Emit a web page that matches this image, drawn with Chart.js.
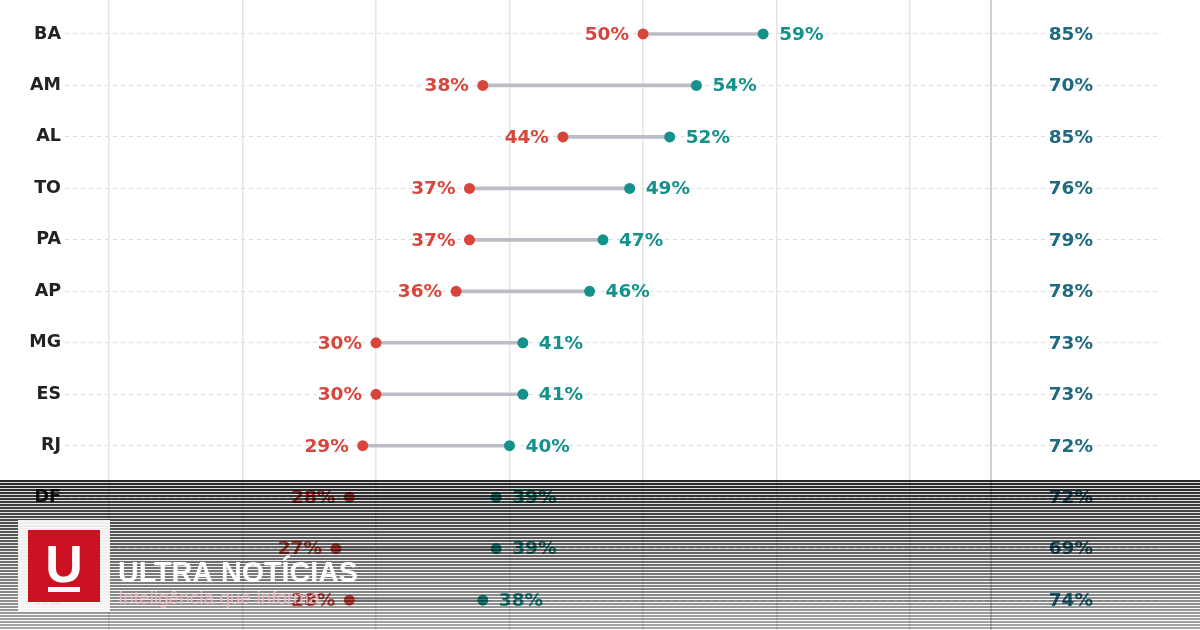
<!DOCTYPE html>
<html>
<head>
<meta charset="utf-8">
<script src="https://cdn.jsdelivr.net/npm/chart.js@4.4.1/dist/chart.umd.min.js"></script>
<style>
html,body{margin:0;padding:0;background:#fff;}
#wrap{width:1200px;height:630px;position:relative;}
</style>
</head>
<body>
<div id="wrap"><canvas id="chart"></canvas></div>
<script>
// state rows, top to bottom
const states = ['BA','AM','AL','TO','PA','AP','MG','ES','RJ','DF','SC','RS'];
const lowValues = [50,38,44,37,37,36,30,30,29,28,27,28];
const highValues = [59,54,52,49,47,46,41,41,40,39,39,38];
const thirdValues = [85,70,85,76,79,78,73,73,72,72,69,74];
const gridTicks = [10,20,30,40,50,60,70];

const RED = '#d8453b';
const TEAL = '#14918a';
const DARKTEAL = '#1f6a80';
const FONT = '"DejaVu Sans", "Open Sans", sans-serif';

const SEPARATOR = 76.07; // column divider position on x scale
const COLUMN_X = 82.05;  // where the third column text sits

const labelPlugin = {
  id: 'labels',
  afterDatasetsDraw(chart) {
    const ctx = chart.ctx;
    const lowMeta = chart.getDatasetMeta(1);
    const highMeta = chart.getDatasetMeta(2);
    const xs = chart.scales.x;
    ctx.save();
    ctx.font = 'bold 18.5px ' + FONT;
    ctx.textBaseline = 'middle';
    lowMeta.data.forEach((pt, i) => {
      ctx.fillStyle = RED;
      ctx.textAlign = 'right';
      ctx.fillText(lowValues[i] + '%', pt.x - 14, pt.y + 1);
    });
    highMeta.data.forEach((pt, i) => {
      ctx.fillStyle = TEAL;
      ctx.textAlign = 'left';
      ctx.fillText(highValues[i] + '%', pt.x + 16, pt.y + 1);
      ctx.fillStyle = DARKTEAL;
      ctx.textAlign = 'center';
      ctx.fillText(thirdValues[i] + '%', xs.getPixelForValue(COLUMN_X), pt.y + 1);
    });
    ctx.restore();
  }
};

// striped watermark band + logo at the bottom
const overlayPlugin = {
  id: 'overlay',
  afterDraw(chart) {
    const ctx = chart.ctx;
    const W = chart.width, top = 480, bottom = chart.height;
    ctx.save();
    for (let y = top; y < bottom; y += 3) {
      const t = (y - top) / (bottom - top);
      ctx.fillStyle = 'rgba(0,0,0,' + (0.84 - 0.5 * t).toFixed(3) + ')';
      ctx.fillRect(0, y, W, 2);
      ctx.fillStyle = 'rgba(0,0,0,' + (0.14 - 0.14 * t).toFixed(3) + ')';
      ctx.fillRect(0, y + 2, W, 1);
    }
    ctx.fillStyle = 'rgba(250,250,250,0.93)';
    ctx.fillRect(18, 520, 92, 92);
    ctx.fillStyle = '#cc1122';
    ctx.fillRect(28, 530, 72, 72);
    ctx.fillStyle = '#fff';
    ctx.font = 'bold 52px "Liberation Sans Narrow", "Liberation Sans", sans-serif';
    ctx.textAlign = 'center';
    ctx.textBaseline = 'alphabetic';
    ctx.fillText('U', 64, 582);
    ctx.fillRect(48, 587, 32, 5);
    ctx.textAlign = 'left';
    ctx.font = 'bold 30px "Liberation Sans", sans-serif';
    ctx.fillText('ULTRA NOTÍCIAS', 118, 582, 240);
    ctx.fillStyle = 'rgba(245,185,195,0.85)';
    ctx.font = '19px "Liberation Sans", sans-serif';
    ctx.fillText('Inteligência que informa', 118, 604, 210);
    ctx.restore();
  }
};

new Chart(document.getElementById('chart'), {
  data: {
    datasets: [
      {
        type: 'bar',
        indexAxis: 'y',
        data: states.map((s, i) => ({ y: i, x: [lowValues[i], highValues[i]] })),
        backgroundColor: '#babec4',
        barThickness: 3,
        order: 3
      },
      {
        type: 'scatter',
        data: states.map((s, i) => ({ x: lowValues[i], y: i })),
        pointRadius: 5.5,
        pointHoverRadius: 5.5,
        backgroundColor: RED,
        borderWidth: 0,
        order: 1
      },
      {
        type: 'scatter',
        data: states.map((s, i) => ({ x: highValues[i], y: i })),
        pointRadius: 5.5,
        pointHoverRadius: 5.5,
        backgroundColor: TEAL,
        borderWidth: 0,
        order: 1
      }
    ]
  },
  options: {
    responsive: true,
    maintainAspectRatio: false,
    animation: false,
    devicePixelRatio: 1,
    layout: { autoPadding: false, padding: { left: 0, right: 38, top: 0, bottom: 0 } },
    plugins: { legend: { display: false }, tooltip: { enabled: false } },
    scales: {
      x: {
        type: 'linear',
        position: 'bottom',
        min: 6.7,
        max: 88.88,
        offset: false,
        afterBuildTicks: s => { s.ticks = gridTicks.concat([SEPARATOR]).map(v => ({ value: v })); },
        afterFit: s => { s.height = 0; s.paddingLeft = 0; s.paddingRight = 0; },
        ticks: { display: false },
        border: { display: false },
        grid: {
          offset: false,
          drawTicks: false,
          color: c => c.tick && c.tick.value === SEPARATOR ? '#cdd1d8' : '#e3e5e9',
          lineWidth: c => c.tick && c.tick.value === SEPARATOR ? 2 : 1.5
        }
      },
      y: {
        type: 'linear',
        reverse: true,
        min: -0.66,
        max: 11.58,
        offset: false,
        afterBuildTicks: s => { s.ticks = states.map((st, i) => ({ value: i })); },
        afterFit: s => { s.width = 65; s.paddingTop = 0; s.paddingBottom = 0; },
        ticks: {
          padding: 4,
          color: '#222',
          font: { family: FONT, weight: 'bold', size: 17.5 },
          callback: v => states[v] ?? ''
        },
        grid: {
          offset: false,
          drawTicks: false,
          color: '#dcdcdc',
          lineWidth: 1
        },
        border: { display: false, dash: [4, 4] }
      }
    }
  },
  plugins: [labelPlugin, overlayPlugin]
});
</script>
</body>
</html>
